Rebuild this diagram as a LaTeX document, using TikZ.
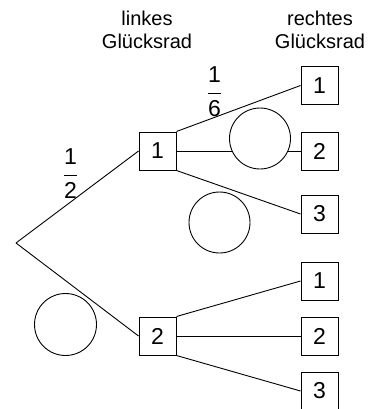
\documentclass[tikz,border=0pt]{standalone}
\usepackage{amsmath}
\usepackage{fontspec}
\setmainfont{Liberation Sans}
\usepackage{tikz}
\usetikzlibrary{positioning,calc}

\begin{document}
\begin{tikzpicture}[x=1pt,y=-1pt,
    box/.style={draw,line width=1pt,minimum width=37pt,minimum height=38pt,inner sep=0pt,font=\fontsize{23}{27}\selectfont},
    rad/.style={draw,line width=0.9pt,fill=white,circle,inner sep=0pt},
    ast/.style={line width=0.9pt},
    kopf/.style={align=center,font=\fontsize{20}{22.7}\selectfont},
    bruch/.style={font=\fontsize{23}{27}\selectfont}]
      \useasboundingbox (0,0) rectangle (368,409);

      \coordinate (A) at (16,243);
      \coordinate (B) at (157.5,151);
      \coordinate (C) at (157.5,336);
      \coordinate (D) at (319.5,85.5);
      \coordinate (E) at (319.5,151);
      \coordinate (F) at (319.5,214);
      \coordinate (G) at (319.5,281);
      \coordinate (H) at (319.5,336);
      \coordinate (I) at (319.5,391);

      \node[kopf] (links) at (147,30) {linkes\\Glücksrad};
      \node[kopf] (rechts) at (320,30) {rechtes\\Glücksrad};

      \node[box] (bb) at (B) {1};
      \node[box] (cc) at (C) {2};
      \node[box] (dd) at (D) {1};
      \node[box] (ee) at (E) {2};
      \node[box] (ff) at (F) {3};
      \node[box] (gg) at (G) {1};
      \node[box] (hh) at (H) {2};
      \node[box] (ii) at (I) {3};

      \draw[ast] (A) -- (bb.west);
      \draw[ast] (A) -- (cc.west);
      \draw[ast] (bb.north east) -- (dd.west);
      \draw[ast] (bb.east) -- (ee.west);
      \draw[ast] (bb.south east) -- (ff.west);
      \draw[ast] (cc.north east) -- (gg.west);
      \draw[ast] (cc.east) -- (hh.west);
      \draw[ast] (cc.south east) -- (ii.west);

      \node[rad,minimum size=61pt] (r1) at (260,138.5) {};
      \node[rad,minimum size=61pt] (r2) at (219.5,222.5) {};
      \node[rad,minimum size=62pt] (r3) at (65.5,324.5) {};

      \node[bruch] (p1) at (70.5,174) {$\dfrac{\text{1}}{\text{2}}$};
      \node[bruch] (p2) at (214.5,92) {$\dfrac{\text{1}}{\text{6}}$};

    \end{tikzpicture}
\end{document}
